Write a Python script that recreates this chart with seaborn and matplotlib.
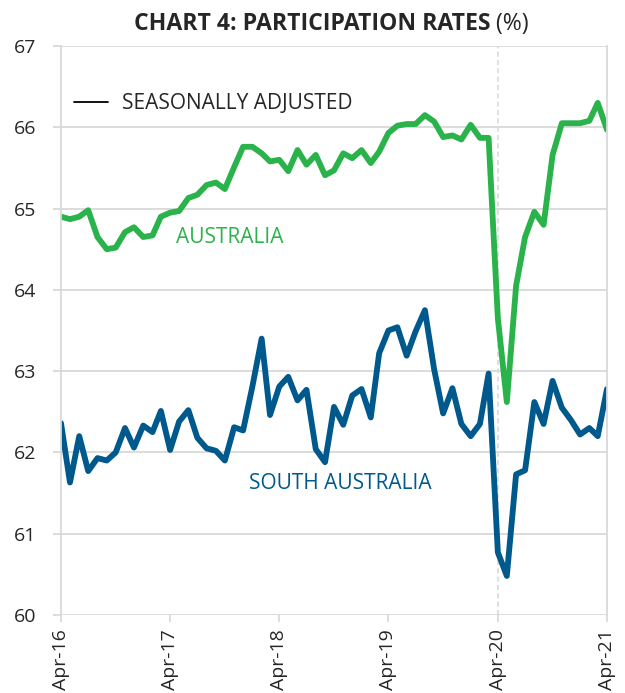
import pandas as pd
import matplotlib.pyplot as plt
import matplotlib.dates as mdates
from matplotlib.lines import Line2D
import seaborn as sns

# monthly, Apr-16 .. Apr-21
months = pd.date_range('2016-04-01', '2021-04-01', freq='MS')

australia = [64.90, 64.87, 64.90, 64.98, 64.65, 64.50, 64.52, 64.71, 64.77, 64.65,
             64.67, 64.90, 64.95, 64.97, 65.13, 65.17, 65.29, 65.32, 65.24, 65.51,
             65.76, 65.76, 65.68, 65.58, 65.60, 65.46, 65.72, 65.54, 65.66, 65.41,
             65.47, 65.68, 65.62, 65.72, 65.56, 65.70, 65.93, 66.02, 66.04, 66.04,
             66.15, 66.07, 65.88, 65.90, 65.85, 66.03, 65.87, 65.87, 63.65, 62.62,
             64.05, 64.65, 64.96, 64.80, 65.66, 66.05, 66.05, 66.05, 66.08, 66.30,
             65.97]

south_australia = [62.36, 61.63, 62.20, 61.77, 61.93, 61.90, 62.00, 62.30, 62.06, 62.33,
                   62.25, 62.51, 62.03, 62.38, 62.52, 62.18, 62.05, 62.02, 61.90, 62.31,
                   62.27, 62.81, 63.40, 62.46, 62.81, 62.93, 62.64, 62.77, 62.04, 61.88,
                   62.56, 62.34, 62.70, 62.78, 62.43, 63.22, 63.50, 63.54, 63.19, 63.49,
                   63.75, 63.02, 62.48, 62.79, 62.35, 62.20, 62.35, 62.97, 60.77, 60.48,
                   61.73, 61.78, 62.62, 62.35, 62.88, 62.55, 62.40, 62.22, 62.30, 62.20,
                   62.78]

series_names = ['AUSTRALIA', 'SOUTH AUSTRALIA']
colors = {'AUSTRALIA': '#2bb34b', 'SOUTH AUSTRALIA': '#00598c'}

df = pd.concat([
    pd.DataFrame({'Month': months, 'Rate': australia, 'Region': 'AUSTRALIA'}),
    pd.DataFrame({'Month': months, 'Rate': south_australia, 'Region': 'SOUTH AUSTRALIA'}),
])

sns.set_style('white')
plt.rcParams['font.family'] = ['Open Sans', 'DejaVu Sans']

fig = plt.figure(figsize=(6.25, 6.93), dpi=100)
ax = fig.add_axes([0.0976, 0.1126, 0.8736, 0.821])

sns.lineplot(data=df, x='Month', y='Rate', hue='Region', hue_order=series_names,
             palette=colors, linewidth=4.2, legend=False, ax=ax)

grid_col = '#d9d9d9'
ax.set_ylim(60, 67)
ax.set_yticks(range(60, 68))
ax.set_xlim(months[0], months[-1])
ax.xaxis.set_major_locator(mdates.MonthLocator(bymonth=4))
ax.xaxis.set_major_formatter(mdates.DateFormatter('%b-%y'))
ax.grid(axis='y', color=grid_col, lw=1.3)
ax.set_axisbelow(True)
for s in ['top', 'bottom']:
    ax.spines[s].set_visible(False)
for s in ['left', 'right']:
    ax.spines[s].set_color(grid_col)
    ax.spines[s].set_linewidth(1.3)
ax.tick_params(axis='x', rotation=90, labelsize=14, length=5, color=grid_col,
               width=1.3, pad=5, bottom=True)
ax.tick_params(axis='y', labelsize=14, length=6, color=grid_col, width=1.3, pad=12, left=True)
ax.set_xlabel('')
ax.set_ylabel('')

ax.axvline(pd.Timestamp('2020-04-01'), color=grid_col, lw=1.2, ls=(0, (3, 2)), zorder=1)

ax.text(pd.Timestamp('2017-04-20'), 64.64, 'AUSTRALIA', color=colors['AUSTRALIA'],
        fontsize=15, va='center', ha='left')
ax.text(pd.Timestamp('2017-12-20'), 61.62, 'SOUTH AUSTRALIA', color=colors['SOUTH AUSTRALIA'],
        fontsize=15, va='center', ha='left')

handle = Line2D([], [], color='black', lw=1.3)
ax.legend([handle], ['SEASONALLY ADJUSTED'], loc='upper left', frameon=False,
          fontsize=15, handlelength=1.6, handletextpad=0.7,
          bbox_to_anchor=(-0.01, 0.95))

t = fig.text(0.214, 0.957, 'CHART 4: PARTICIPATION RATES', fontsize=16.6,
             fontweight='bold', va='baseline', ha='left')
ax.annotate(' (%)', xy=(1, 0), xycoords=t, fontsize=16.6, va='bottom', ha='left')

plt.savefig('out.png', dpi=100)
